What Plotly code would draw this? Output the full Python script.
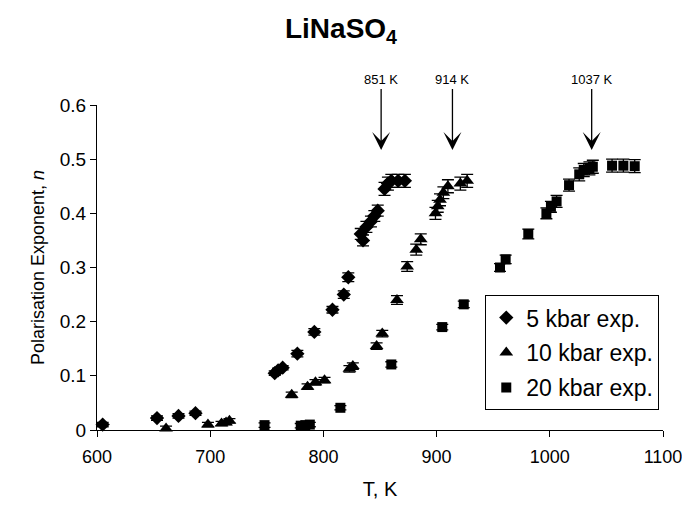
import plotly.graph_objects as go

# Temperature (K) and polarisation exponent n for each pressure series
t_5kbar = [605, 653, 672, 687, 757, 760, 764, 777, 792, 808, 818, 822,
           833, 835, 838, 842, 845, 848, 854, 857, 860, 866, 872]
n_5kbar = [0.010, 0.022, 0.026, 0.031, 0.105, 0.110, 0.115, 0.141, 0.181, 0.222, 0.250, 0.282,
           0.362, 0.350, 0.375, 0.385, 0.395, 0.405, 0.445, 0.455, 0.460, 0.460, 0.460]
err_5kbar = [0.004, 0.004, 0.004, 0.004, 0.004, 0.004, 0.004, 0.006, 0.006, 0.006, 0.007, 0.008,
             0.010, 0.010, 0.010, 0.010, 0.010, 0.010, 0.012, 0.012, 0.012, 0.012, 0.012]

t_10kbar = [661, 698, 710, 714, 717, 772, 786, 793, 801, 823, 826, 847,
            852, 865, 874, 882, 886, 899, 901, 903, 906, 910, 921, 927]
n_10kbar = [0.003, 0.010, 0.012, 0.014, 0.017, 0.065, 0.080, 0.088, 0.092, 0.113, 0.118, 0.155,
            0.178, 0.240, 0.302, 0.333, 0.352, 0.400, 0.413, 0.425, 0.438, 0.450, 0.455, 0.460]
err_10kbar = [0.004, 0.004, 0.004, 0.004, 0.004, 0.005, 0.005, 0.005, 0.005, 0.006, 0.006, 0.006,
              0.006, 0.008, 0.009, 0.010, 0.010, 0.011, 0.011, 0.011, 0.011, 0.012, 0.012, 0.012]

t_20kbar = [748, 780, 784, 788, 815, 860, 905, 924, 956, 961, 981,
            997, 1001, 1006, 1017, 1026, 1030, 1035, 1038, 1055, 1065, 1075]
n_20kbar = [0.009, 0.008, 0.009, 0.010, 0.041, 0.121, 0.190, 0.232, 0.300, 0.315, 0.362,
            0.400, 0.412, 0.422, 0.452, 0.472, 0.480, 0.483, 0.486, 0.488, 0.488, 0.487]
err_20kbar = [0.004, 0.004, 0.004, 0.004, 0.004, 0.005, 0.005, 0.006, 0.007, 0.008, 0.009,
              0.010, 0.010, 0.011, 0.011, 0.012, 0.012, 0.012, 0.012, 0.012, 0.012, 0.012]

# Transition temperatures marked by arrows
transition_t = [851, 914, 1037]
transition_labels = ["851 K", "914 K", "1037 K"]
arrow_tip_n = 0.517

FONT = "Liberation Sans, Arial, sans-serif"

series = [
    ("5 kbar exp.", t_5kbar, n_5kbar, err_5kbar, "diamond", 11),
    ("10 kbar exp.", t_10kbar, n_10kbar, err_10kbar, "triangle-up", 12),
    ("20 kbar exp.", t_20kbar, n_20kbar, err_20kbar, "square", 10),
]

fig = go.Figure()
for i, (name, t, n, err, symbol, size) in enumerate(series):
    fig.add_trace(go.Scatter(
        x=t, y=n, mode="markers", name=name, legendgroup=f"g{i}",
        marker=dict(symbol=symbol, size=size, color="black"),
        error_y=dict(type="data", array=err, visible=True,
                     color="black", thickness=1.3, width=6),
        cliponaxis=False,
    ))

for t, label in zip(transition_t, transition_labels):
    fig.add_annotation(
        x=t, y=arrow_tip_n, xref="x", yref="y",
        text=label, showarrow=True, ax=0, ay=-70,
        arrowhead=3, arrowsize=2.3, arrowwidth=1.3, arrowcolor="black",
        font=dict(family=FONT, size=13, color="black"),
    )

fig.update_layout(
    width=682, height=509,
    margin=dict(l=97, r=19, t=105, b=79, autoexpand=False),
    paper_bgcolor="white", plot_bgcolor="white",
    title=dict(text="<b>LiNaSO<sub>4</sub></b>", x=0.5, xanchor="center",
               y=0.945, yanchor="middle",
               font=dict(family=FONT, size=28, color="black")),
    font=dict(family=FONT, color="black"),
    legend=dict(
        x=0.686, y=0.415, xanchor="left", yanchor="top",
        bordercolor="black", borderwidth=1, bgcolor="white",
        font=dict(family=FONT, size=23, color="black"),
        traceorder="grouped", tracegroupgap=2,
        itemwidth=30,
    ),
    showlegend=True,
)

fig.update_xaxes(
    range=[600, 1100], tickvals=[600, 700, 800, 900, 1000, 1100],
    showgrid=False, zeroline=False, automargin=False,
    showline=True, linecolor="black", linewidth=1.3,
    ticks="outside", ticklen=6, tickcolor="black", tickwidth=1.3,
    ticklabelstandoff=4, ticklabeloverflow="allow",
    tickfont=dict(family=FONT, size=18, color="black"),
    title=dict(text="T, K", font=dict(family=FONT, size=20, color="black"), standoff=16),
)
fig.update_yaxes(
    range=[0, 0.6], tickvals=[0, 0.1, 0.2, 0.3, 0.4, 0.5, 0.6],
    ticktext=["0", "0.1", "0.2", "0.3", "0.4", "0.5", "0.6"],
    showgrid=False, zeroline=False, automargin=False,
    showline=True, linecolor="black", linewidth=1.3,
    ticks="outside", ticklen=6, tickcolor="black", tickwidth=1.3,
    tickfont=dict(family=FONT, size=19, color="black"),
    title=dict(text="Polarisation Exponent, <i>n</i>",
               font=dict(family=FONT, size=18, color="black"), standoff=10),
)

fig.write_html("out.html")
